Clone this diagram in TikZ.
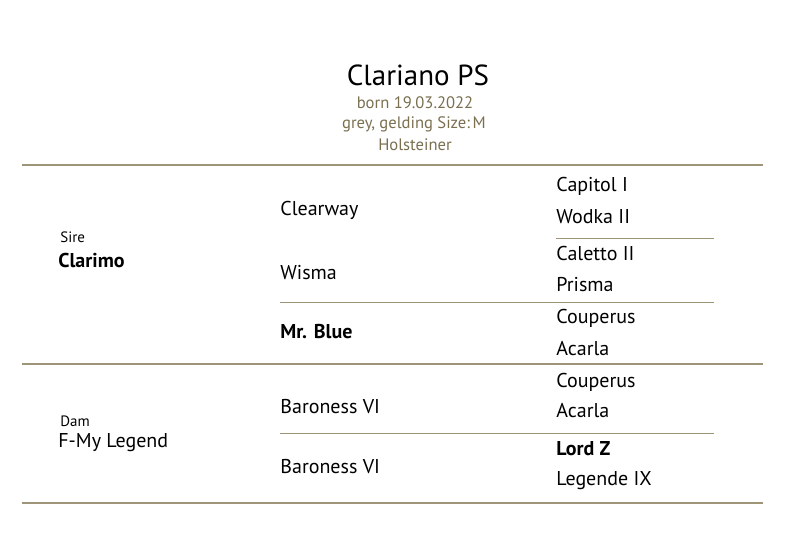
\documentclass[tikz,border=0pt]{standalone}
\usepackage{fontspec}
\setmainfont{PT Sans}
\usepackage{xcolor}
\definecolor{olive}{RGB}{158,148,120}
\definecolor{oltext}{RGB}{122,112,80}

\begin{document}
\begin{tikzpicture}[x=0.5pt,y=-0.5pt,
    horse/.style={anchor=west,inner sep=0pt,font=\fontsize{10}{12}\selectfont},
    star/.style={horse,font=\fontsize{10}{12}\selectfont\bfseries},
    role/.style={anchor=west,inner sep=0pt,font=\fontsize{7.5}{9}\selectfont},
    info/.style={inner sep=0pt,text=oltext,font=\fontsize{8.3}{10}\selectfont},
    rule/.style={olive,line width=0.9pt},
    thin/.style={olive,line width=0.5pt}]
  \useasboundingbox[fill=white] (0,0) rectangle (800,533);
  % head
  \node[inner sep=0pt,font=\fontsize{14.5}{17}\selectfont] (title) at (418,75) {Clariano PS};
  \node[info] (born) at (415,103) {born 19.03.2022};
  \node[info] (coat) at (414,124) {grey, gelding Size:\,M};
  \node[info] (breed) at (415,145) {Holsteiner};
  % rules
  \draw[rule] (22,165) -- (763,165);
  \draw[rule] (22,364) -- (763,364);
  \draw[rule] (22,503) -- (763,503);
  \draw[thin] (556,239) -- (714,239);
  \draw[thin] (280,303) -- (714,303);
  \draw[thin] (280,434) -- (714,434);
  % sire side
  \node[role] (sire) at (60,237) {Sire};
  \node[star] (clarimo) at (58,261) {Clarimo};
  \node[horse] (clearway) at (280,210) {Clearway};
  \node[horse] (wisma) at (280,273) {Wisma};
  \node[star] (mrblue) at (280,332) {Mr. Blue};
  \node[horse] (capitol) at (556,186) {Capitol I};
  \node[horse] (wodka) at (556,217) {Wodka II};
  \node[horse] (caletto) at (556,254) {Caletto II};
  \node[horse] (prisma) at (556,285) {Prisma};
  \node[horse] (couperusA) at (556,318) {Couperus};
  \node[horse] (acarlaA) at (556,349) {Acarla};
  % dam side
  \node[role] (dam) at (60,421) {Dam};
  \node[horse] (fmy) at (58,443) {F-My Legend};
  \node[horse] (baronessA) at (280,407) {Baroness VI};
  \node[horse] (baronessB) at (280,467) {Baroness VI};
  \node[horse] (couperusB) at (556,382) {Couperus};
  \node[horse] (acarlaB) at (556,411) {Acarla};
  \node[star] (lordz) at (556,449) {Lord Z};
  \node[horse] (legende) at (556,481) {Legende IX};
\end{tikzpicture}
\end{document}
